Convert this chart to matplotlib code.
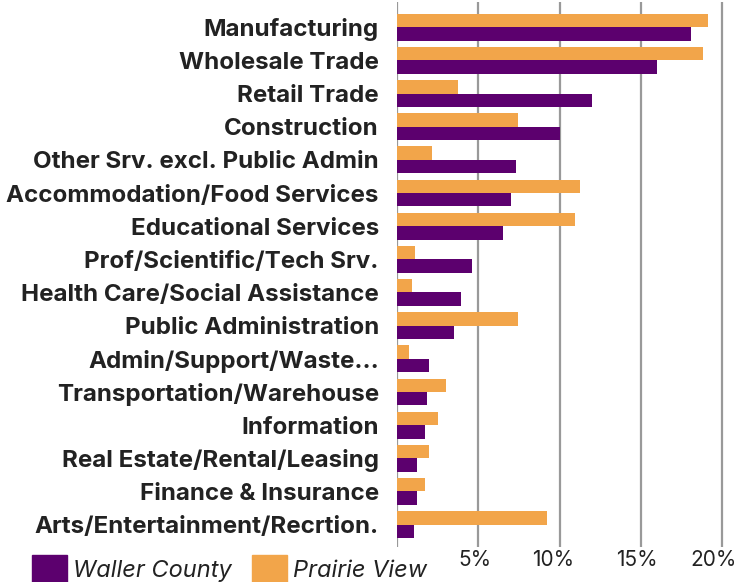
import numpy as np
import matplotlib
matplotlib.use("Agg")
import matplotlib.pyplot as plt
from matplotlib.patches import Patch
from matplotlib.transforms import ScaledTranslation

plt.rcParams['font.family'] = ['Inter', 'DejaVu Sans']

industries = ['Manufacturing', 'Wholesale Trade', 'Retail Trade', 'Construction',
              'Other Srv. excl. Public Admin', 'Accommodation/Food Services',
              'Educational Services', 'Prof/Scientific/Tech Srv.',
              'Health Care/Social Assistance', 'Public Administration',
              'Admin/Support/Waste...', 'Transportation/Warehouse', 'Information',
              'Real Estate/Rental/Leasing', 'Finance & Insurance',
              'Arts/Entertainment/Recrtion.']
waller = [18.1, 16.0, 12.0, 10.0, 7.3, 7.0, 6.5, 4.6, 3.95, 3.5,
          2.0, 1.85, 1.75, 1.25, 1.25, 1.05]
prairie = [19.1, 18.8, 3.75, 7.45, 2.15, 11.25, 10.95, 1.1, 0.9, 7.45,
           0.75, 3.0, 2.55, 2.0, 1.75, 9.2]
ticks = [0, 5, 10, 15, 20]
tick_labels = ['', '5%', '10%', '15%', '20%']

purple = '#5c006e'
orange = '#f2a54a'

fig = plt.figure(figsize=(7.35, 5.82), dpi=100)
ax = fig.add_axes([0.540, 0.060, 0.447, 0.937])

y = np.arange(len(industries))
h = 0.405
ax.barh(y - h / 2, prairie, height=h, color=orange, zorder=3)
ax.barh(y + h / 2, waller, height=h, color=purple, zorder=3)

ax.set_xlim(0, 20.2)
ax.set_ylim(len(industries) - 0.32, -0.77)
ax.set_xticks(ticks)
ax.set_xticklabels(tick_labels, fontsize=15, color='#222222')
ax.set_yticks(y)
ax.set_yticklabels(industries, fontsize=17.4, fontweight='bold', color='#222222')
ax.tick_params(axis='both', length=0)
ax.tick_params(axis='y', pad=13)
ax.tick_params(axis='x', pad=2)
ax.grid(axis='x', color='#999999', linewidth=1.6, zorder=0)
for s in ax.spines.values():
    s.set_visible(False)

# nudge the percent labels a little left so "20%" stays on the canvas
for lab, dx in zip(ax.get_xticklabels(), [0, -3, -6, -4, -9]):
    lab.set_transform(lab.get_transform() + ScaledTranslation(dx / 100, 0, fig.dpi_scale_trans))

handles = [Patch(color=purple, label='Waller County'),
           Patch(color=orange, label='Prairie View')]
fig.legend(handles=handles, loc='lower left', bbox_to_anchor=(0.043, 0.0),
           ncol=2, frameon=False, borderpad=0, borderaxespad=0,
           handlelength=1.5, handleheight=1.35, handletextpad=0.25,
           columnspacing=0.85,
           prop={'size': 17, 'style': 'italic'}, labelcolor='#222222')

fig.savefig('out.png', dpi=100)
